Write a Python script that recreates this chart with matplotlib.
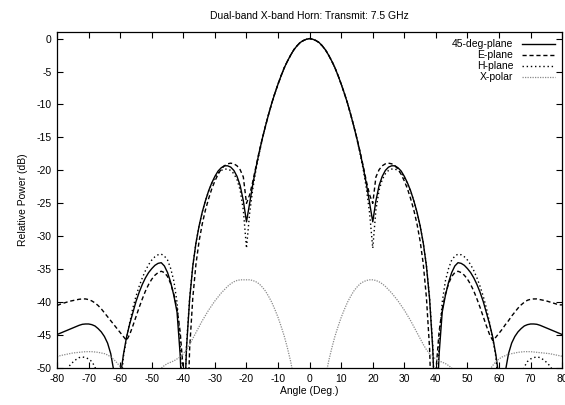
import numpy as np
import matplotlib
matplotlib.use("Agg")
import matplotlib.pyplot as plt

plt.rcParams['font.family'] = ['Liberation Sans', 'DejaVu Sans']
plt.rcParams['axes.unicode_minus'] = False

# angle grid (deg), one sample per degree
angles = np.arange(-80, 81)

# 45-deg-plane (solid)
plane45 = [
    -44.9, -44.7, -44.5, -44.3, -44.1, -43.9, -43.7, -43.5, -43.35, -43.3,
    -43.3, -43.4, -43.6, -44.0, -44.5, -45.2, -46.2, -47.8, -50.5, -60.0,
    -51.5, -48.0, -45.3, -43.3, -41.6, -39.9, -38.5, -37.3, -36.3, -35.5,
    -34.9, -34.4, -34.1, -34.0, -34.5, -35.5, -37.0, -39.0, -41.5, -48.0,
    -60.0, -47.0, -39.5, -34.5, -31.0, -28.4, -26.3, -24.6, -23.1, -21.9,
    -20.9, -20.1, -19.6, -19.3, -19.3, -19.5, -20.0, -20.9, -22.3, -24.6,
    -27.8, -25.0, -22.1, -19.6, -17.3, -15.2, -13.3, -11.5, -9.8, -8.3,
    -6.9, -5.6, -4.4, -3.4, -2.5, -1.7, -1.1, -0.6, -0.3, -0.1,
    0.0,
    -0.1, -0.3, -0.6, -1.1, -1.7, -2.5, -3.4, -4.4, -5.6, -6.9,
    -8.3, -9.8, -11.5, -13.3, -15.2, -17.3, -19.6, -22.1, -25.0, -27.8,
    -24.6, -22.3, -20.9, -20.0, -19.5, -19.3, -19.3, -19.6, -20.1, -20.9,
    -21.9, -23.1, -24.6, -26.3, -28.4, -31.0, -34.5, -39.5, -47.0, -60.0,
    -48.0, -41.5, -39.0, -37.0, -35.5, -34.5, -34.0, -34.1, -34.4, -34.9,
    -35.5, -36.3, -37.3, -38.5, -39.9, -41.6, -43.3, -45.3, -48.0, -51.5,
    -60.0, -50.5, -47.8, -46.2, -45.2, -44.5, -44.0, -43.6, -43.4, -43.3,
    -43.3, -43.35, -43.5, -43.7, -43.9, -44.1, -44.3, -44.5, -44.7, -44.9,
]

# E-plane (dashed)
e_plane = [
    -40.5, -40.3, -40.15, -40.0, -39.85, -39.75, -39.65, -39.55, -39.5, -39.5,
    -39.6, -39.8, -40.1, -40.5, -41.0, -41.6, -42.2, -42.8, -43.4, -44.0,
    -44.6, -45.2, -45.8, -44.9, -43.6, -42.2, -40.8, -39.5, -38.3, -37.3,
    -36.5, -35.9, -35.5, -35.3, -35.5, -36.1, -37.2, -38.8, -41.0, -44.5,
    -50.5, -62.0, -47.0, -39.3, -34.2, -30.7, -28.1, -26.0, -24.3, -22.8,
    -21.6, -20.6, -19.8, -19.3, -19.0, -18.9, -19.0, -19.3, -19.9, -21.0,
    -25.0, -23.7, -21.7, -19.4, -17.2, -15.2, -13.3, -11.5, -9.8, -8.3,
    -6.9, -5.6, -4.4, -3.4, -2.5, -1.7, -1.1, -0.6, -0.3, -0.1,
    0.0,
    -0.1, -0.3, -0.6, -1.1, -1.7, -2.5, -3.4, -4.4, -5.6, -6.9,
    -8.3, -9.8, -11.5, -13.3, -15.2, -17.2, -19.4, -21.7, -23.7, -25.0,
    -21.0, -19.9, -19.3, -19.0, -18.9, -19.0, -19.3, -19.8, -20.6, -21.6,
    -22.8, -24.3, -26.0, -28.1, -30.7, -34.2, -39.3, -47.0, -62.0, -50.5,
    -44.5, -41.0, -38.8, -37.2, -36.1, -35.5, -35.3, -35.5, -35.9, -36.5,
    -37.3, -38.3, -39.5, -40.8, -42.2, -43.6, -44.9, -45.8, -45.3, -44.7,
    -44.1, -43.4, -42.8, -42.1, -41.5, -40.9, -40.4, -40.0, -39.7, -39.55,
    -39.5, -39.5, -39.6, -39.7, -39.8, -39.95, -40.1, -40.25, -40.4, -40.4,
]

# H-plane (dotted)
h_plane = [
    -55.0, -53.0, -51.5, -50.3, -49.6, -49.1, -48.7, -48.4, -48.3, -48.4,
    -48.6, -49.0, -49.8, -51.5, -54.0, -57.0, -60.0, -64.0, -65.0, -62.0,
    -54.0, -48.3, -45.5, -43.1, -40.9, -39.1, -37.6, -36.3, -35.2, -34.3,
    -33.6, -33.1, -32.8, -32.7, -33.0, -33.6, -34.9, -36.8, -40.0, -46.0,
    -60.0, -46.5, -39.3, -34.4, -31.0, -28.4, -26.3, -24.6, -23.2, -22.0,
    -21.1, -20.4, -20.0, -19.8, -19.8, -20.0, -20.5, -21.4, -23.0, -26.0,
    -31.8, -26.5, -22.8, -19.9, -17.5, -15.3, -13.3, -11.5, -9.8, -8.3,
    -6.9, -5.6, -4.4, -3.4, -2.5, -1.7, -1.1, -0.6, -0.3, -0.1,
    0.0,
    -0.1, -0.3, -0.6, -1.1, -1.7, -2.5, -3.4, -4.4, -5.6, -6.9,
    -8.3, -9.8, -11.5, -13.3, -15.3, -17.5, -19.9, -22.8, -26.5, -31.8,
    -26.0, -23.0, -21.4, -20.5, -20.0, -19.8, -19.8, -20.0, -20.4, -21.1,
    -22.0, -23.2, -24.6, -26.3, -28.4, -31.0, -34.4, -39.3, -46.5, -60.0,
    -46.0, -40.0, -36.8, -34.9, -33.6, -33.0, -32.7, -32.8, -33.1, -33.6,
    -34.3, -35.2, -36.3, -37.6, -39.1, -40.9, -43.1, -45.5, -48.3, -54.0,
    -62.0, -65.0, -64.0, -60.0, -57.0, -54.0, -51.5, -49.8, -49.0, -48.6,
    -48.4, -48.3, -48.4, -48.7, -49.1, -49.6, -50.3, -51.5, -53.0, -55.0,
]

# X-polar (grey, fine dots)
x_polar = [
    -48.3, -48.1, -48.0, -47.9, -47.8, -47.7, -47.65, -47.6, -47.55, -47.5,
    -47.5, -47.5, -47.55, -47.6, -47.7, -47.8, -48.0, -48.3, -48.7, -49.2,
    -49.8, -50.5, -51.5, -52.5, -53.5, -54.5, -55.0, -55.0, -54.0, -53.0,
    -52.0, -51.2, -50.5, -50.0, -49.6, -49.3, -49.1, -48.9, -48.6, -48.3,
    -47.8, -47.2, -46.4, -45.5, -44.6, -43.7, -42.8, -42.0, -41.2, -40.5,
    -39.8, -39.2, -38.6, -38.1, -37.6, -37.2, -36.9, -36.7, -36.6, -36.6,
    -36.6, -36.6, -36.7, -36.9, -37.2, -37.7, -38.3, -39.1, -40.0, -41.1,
    -42.3, -43.7, -45.2, -47.0, -49.0, -51.5, -54.0, -58.0, -64.0, -70.0,
    -75.0,
    -70.0, -64.0, -58.0, -54.0, -51.5, -49.0, -47.0, -45.2, -43.7, -42.3,
    -41.1, -40.0, -39.1, -38.3, -37.7, -37.2, -36.9, -36.7, -36.6, -36.6,
    -36.7, -36.9, -37.2, -37.6, -38.1, -38.6, -39.2, -39.8, -40.5, -41.2,
    -42.0, -42.8, -43.7, -44.6, -45.5, -46.4, -47.2, -47.8, -48.3, -48.6,
    -48.9, -49.1, -49.3, -49.6, -50.0, -50.5, -51.2, -52.0, -53.0, -54.0,
    -55.0, -55.0, -54.5, -53.5, -52.3, -51.2, -50.3, -49.6, -49.0, -48.6,
    -48.3, -48.1, -47.9, -47.8, -47.7, -47.6, -47.55, -47.5, -47.5, -47.5,
    -47.55, -47.6, -47.65, -47.7, -47.75, -47.8, -47.9, -48.0, -48.1, -48.2,
]

xticks = np.arange(-80, 81, 10)
yticks = np.arange(-50, 1, 5)

fig = plt.figure(figsize=(5.65, 4.05), dpi=100)
ax = fig.add_axes([0.101, 0.091, 0.894, 0.830])

ax.plot(angles, plane45, color='black', lw=1.0, label='45-deg-plane')
ax.plot(angles, e_plane, color='black', lw=1.0, ls=(0, (3, 2)), label='E-plane')
ax.plot(angles, h_plane, color='black', lw=1.0, ls=(0, (1, 2)), label='H-plane')
ax.plot(angles, x_polar, color='#8a8a8a', lw=0.9, ls=(0, (1, 1)), label='X-polar')

ax.set_xlim(-80, 80)
ax.set_ylim(-50, 1)
ax.set_xticks(xticks)
ax.set_yticks(yticks)
ax.tick_params(direction='in', top=True, right=True, length=4, width=0.8,
               labelsize=7.5, pad=4)
for s in ax.spines.values():
    s.set_linewidth(0.9)

ax.set_title('Dual-band X-band Horn: Transmit: 7.5 GHz', fontsize=7.5, pad=9)
ax.set_xlabel('Angle (Deg.)', fontsize=7.5, labelpad=2)
ax.set_ylabel('Relative Power (dB)', fontsize=7.5, labelpad=6)

ax.legend(loc='upper right', frameon=False, markerfirst=False, fontsize=7.5,
          handlelength=3.2, handletextpad=0.8, labelspacing=0.1,
          borderaxespad=0.3)

fig.savefig('out.png', dpi=100)
